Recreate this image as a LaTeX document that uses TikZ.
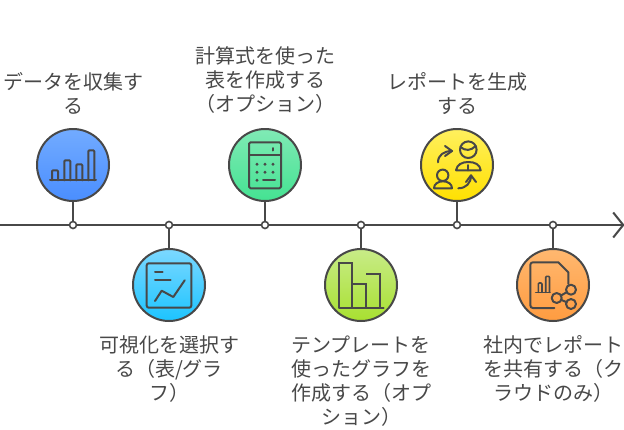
\documentclass[tikz,border=0pt]{standalone}
\usepackage{fontspec}
\setmainfont{Noto Sans CJK JP}
\usetikzlibrary{arrows.meta}
\definecolor{ink}{HTML}{484848}
\definecolor{blueT}{HTML}{72ABFF}\definecolor{blueB}{HTML}{4A8EFF}
\definecolor{greenT}{HTML}{80EAB5}\definecolor{greenB}{HTML}{44E292}
\definecolor{yellowT}{HTML}{FFF05E}\definecolor{yellowB}{HTML}{FFE000}
\definecolor{cyanT}{HTML}{7CD8FF}\definecolor{cyanB}{HTML}{1CC4FF}
\definecolor{limeT}{HTML}{C8EC88}\definecolor{limeB}{HTML}{A8E030}
\definecolor{orangeT}{HTML}{FFB870}\definecolor{orangeB}{HTML}{FF9C40}
\tikzset{
  x=1pt,y=-1pt,
  axisline/.style={draw=ink,line width=2pt},
  stem/.style={draw=ink,line width=2pt},
  dot/.style={circle,draw=ink,fill=white,line width=1.6pt,minimum size=7pt,inner sep=0pt},
  disc/.style 2 args={circle,draw=ink,line width=2pt,minimum size=72pt,inner sep=0pt,top color=#1,bottom color=#2},
  label/.style={font=\fontsize{20}{24}\selectfont,text=ink,align=center,inner sep=0pt,anchor=center},
  icon/.style={draw=ink,line width=2pt,line cap=round,line join=round},
}
\begin{document}
\begin{tikzpicture}
\useasboundingbox (0,0) rectangle (624,429);
\coordinate (start) at (0,225);
\coordinate (end) at (624.5,225);
\draw[axisline,-{Straight Barb[length=10pt,width=25pt,line width=2pt]}] (start) -- (end);

\node[dot] (d1) at (73,225) {};
\node[dot] (d2) at (169,225) {};
\node[dot] (d3) at (265,225) {};
\node[dot] (d4) at (361,225) {};
\node[dot] (d5) at (457,225) {};
\node[dot] (d6) at (553,225) {};

\node[disc={blueT}{blueB}] (c1) at (73,165) {};
\node[disc={greenT}{greenB}] (c3) at (265,165) {};
\node[disc={yellowT}{yellowB}] (c5) at (457,165) {};
\node[disc={cyanT}{cyanB}] (c2) at (169,285) {};
\node[disc={limeT}{limeB}] (c4) at (361,285) {};
\node[disc={orangeT}{orangeB}] (c6) at (553,285) {};

\draw[stem] (c1) -- (d1);
\draw[stem] (c2) -- (d2);
\draw[stem] (c3) -- (d3);
\draw[stem] (c4) -- (d4);
\draw[stem] (c5) -- (d5);
\draw[stem] (c6) -- (d6);

% icon 1
\begin{scope}[shift={(c1.center)}]
\draw[icon] (-23,15.3) -- (23,15.3);
\draw[icon,rounded corners=1pt] (-21,15.3) -- (-21,5.3) -- (-15,5.3) -- (-15,15.3);
\draw[icon,rounded corners=1pt] (-8.7,15.3) -- (-8.7,-4.7) -- (-2.7,-4.7) -- (-2.7,15.3);
\draw[icon,rounded corners=1pt] (3.3,15.3) -- (3.3,-.7) -- (9.3,-.7) -- (9.3,15.3);
\draw[icon,rounded corners=1pt] (15.3,15.3) -- (15.3,-14.7) -- (21.3,-14.7) -- (21.3,15.3);
\end{scope}
% icon 3
\begin{scope}[shift={(c3.center)}]
\draw[icon,rounded corners=1.5pt] (-16,-22.7) rectangle (16,23.3);
\draw[icon] (-16,-10) -- (16,-10);
\draw[icon] (8,-17) -- (8,-14.5);
\foreach \px in {-8,0,8}\foreach \py in {-.7,7.3}{\fill[ink] (\px,\py) circle (1.6pt);}
\fill[ink] (-8,15.3) circle (1.6pt);
\draw[icon] (-2,15.3) -- (10,15.3);
\end{scope}
% icon 5
\begin{scope}[shift={(c5.center)}]
\draw[icon] (-19,-2.7) .. controls (-19,-10) and (-13,-14) .. (-5,-14);
\draw[icon] (-12,-19) -- (-5,-14) -- (-12,-9);
\draw[icon] (11.3,-15.3) circle (8.3pt);
\draw[icon] (3.5,-18) .. controls (8,-14) and (14,-14) .. (18.5,-19);
\draw[icon] (-1,5.3) -- (23.7,5.3) .. controls (23,-.5) and (18,-3) .. (11.3,-3) .. controls (5,-3) and (0,-.5) .. (-1,5.3);
\draw[icon] (11.3,0) -- (11.3,5.3);
\draw[icon] (-14.3,10.3) circle (5.7pt);
\draw[icon] (-23,23.3) -- (-5,23.3) .. controls (-5,19) and (-9,16.3) .. (-14,16.3) .. controls (-19,16.3) and (-23,19) .. (-23,23.3);
\draw[icon] (1.3,23.3) .. controls (9,23.3) and (14,18) .. (14,10.5);
\draw[icon] (9,17) -- (14,10.3) -- (19,17);
\end{scope}
% icon 2
\begin{scope}[shift={(c2.center)}]
\draw[icon,rounded corners=2pt] (-22.3,-21.7) rectangle (22.3,22.7);
\draw[icon] (-14,-13.3) -- (-6.3,-13.3);
\draw[icon] (-14,-5) -- (1.7,-5);
\draw[icon] (-14,16) -- (-7.3,5.7) -- (4.3,12) -- (15.7,-4.7);
\end{scope}
% icon 4
\begin{scope}[shift={(c4.center)}]
\draw[icon,line cap=butt,line join=miter] (-22,22.7) -- (-22,-21.7) -- (-8.7,-21.7) -- (-8.7,22.7);
\draw[icon,line cap=butt,line join=miter] (-8.7,-1) -- (5.3,-1) -- (5.3,22.7);
\draw[icon,line cap=butt,line join=miter] (5.3,-11.3) -- (18.7,-11.3) -- (18.7,22.7);
\draw[icon] (-22,22.7) -- (22.7,22.7);
\end{scope}
% icon 6
\begin{scope}[shift={(c6.center)}]
\draw[icon] (15.3,-1) -- (15.3,-12.7) -- (5.3,-22.7) -- (-20,-22.7) .. controls (-21.7,-22.7) and (-22.7,-21.7) .. (-22.7,-20) -- (-22.7,20) .. controls (-22.7,22) and (-21.7,23) .. (-20,23) -- (1.3,23);
\draw[icon,line width=1.6pt] (-17.3,7.3) -- (-3,7.3);
\draw[icon,line width=1.6pt,rounded corners=1pt] (-14.7,7.3) -- (-14.7,-2) -- (-11,-2) -- (-11,7.3);
\draw[icon,line width=1.6pt,rounded corners=1pt] (-7.3,7.3) -- (-7.3,-8.7) -- (-3.5,-8.7) -- (-3.5,7.3);
\draw[icon] (18,4.7) circle (5pt);
\draw[icon] (3.7,13) circle (5pt);
\draw[icon] (18,19) circle (5pt);
\draw[icon] (8,10.5) -- (13.7,7.2);
\draw[icon] (8.3,14.9) -- (13.4,17.1);
\end{scope}

\node[label] (t1) at (73,93.5) {データを収集す\\る};
\node[label] (t3) at (265,80.5) {計算式を使った\\表を作成する\\（オプション）};
\node[label] (t5) at (457,93.5) {レポートを生成\\する};
\node[label] (t2) at (169,369) {可視化を選択す\\る（表/グラ\\フ）};
\node[label] (t4) at (361,381) {テンプレートを\\使ったグラフを\\作成する（オプ\\ション）};
\node[label] (t6) at (553,369) {社内でレポート\\を共有する（ク\\ラウドのみ）};
\end{tikzpicture}
\end{document}
